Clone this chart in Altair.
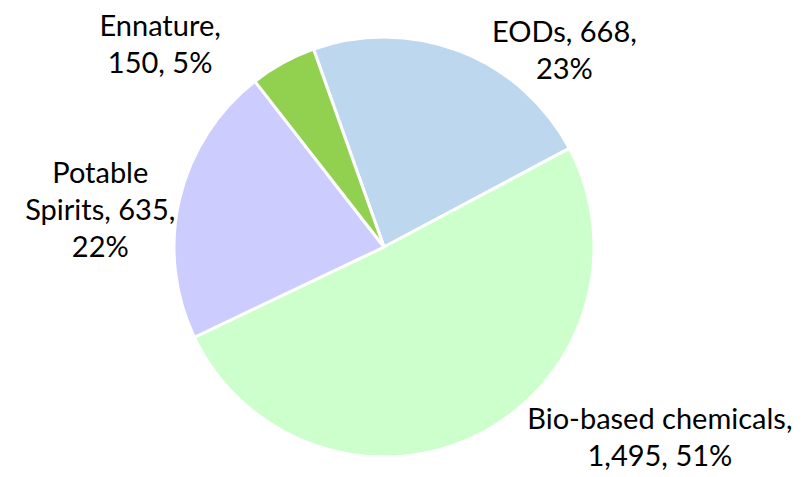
import math
import altair as alt
import pandas as pd

# ---- data ----
categories = ["EODs", "Bio-based chemicals", "Potable Spirits", "Ennature"]
values = [668, 1495, 635, 150]
label_texts = ["EODs, 668,\n23%", "Bio-based chemicals,\n1,495, 51%",
               "Potable\nSpirits, 635,\n22%", "Ennature,\n150, 5%"]

# ---- style / layout ----
colors = ["#BDD7EE", "#CCFFCC", "#CCCCFF", "#92D050"]
start_deg = -19.6            # first slice begins slightly left of 12 o'clock
label_nudge_deg = [21.5, -28.45, -6.1, -19.3]
label_radius = [266, 336, 286, 301]
line_h = 37

total = sum(values)
start_rad = math.radians(start_deg)

df = pd.DataFrame({"cat": categories, "val": values, "idx": list(range(len(values)))})

# label anchor: slice mid-angle + nudge, then lift so the text block is centred
angs, rads, acc = [], [], start_deg
for v, t, nd, r in zip(values, label_texts, label_nudge_deg, label_radius):
    span = v / total * 360
    a = math.radians(acc + span / 2 + nd)
    acc += span
    dx, dy = r * math.sin(a), -r * math.cos(a)
    dy -= (t.count("\n")) * line_h / 2
    angs.append(math.atan2(dx, -dy) % (2 * math.pi))
    rads.append(math.hypot(dx, dy))

lab = pd.DataFrame({"txt": label_texts, "ang": angs, "r": rads})

pie = alt.Chart(df).mark_arc(outerRadius=210, stroke="white", strokeWidth=3).encode(
    theta=alt.Theta("val:Q", stack=True,
                    scale=alt.Scale(range=[start_rad, start_rad + 2 * math.pi])),
    color=alt.Color("cat:N", scale=alt.Scale(domain=categories, range=colors), legend=None),
    order=alt.Order("idx:Q"),
)

labels = alt.Chart(lab).mark_text(
    font="Lato", fontSize=29, color="#000000", align="center", baseline="middle",
    lineBreak="\n", lineHeight=line_h,
).encode(
    theta=alt.Theta("ang:Q", stack=None,
                    scale=alt.Scale(domain=[0, 2 * math.pi], range=[0, 2 * math.pi])),
    radius=alt.Radius("r:Q", scale=alt.Scale(type="linear", domain=[0, 400], range=[0, 400], zero=True)),
    text="txt:N",
)

chart = alt.layer(pie, labels).resolve_scale(theta="independent", radius="independent").properties(
    width=752, height=450,
    padding={"left": 0, "top": 14, "right": 35, "bottom": 0},
    autosize=alt.AutoSizeParams(type="none"),
).configure_view(stroke=None)

chart.save("out.html", embed_options={"renderer": "svg", "actions": False})
